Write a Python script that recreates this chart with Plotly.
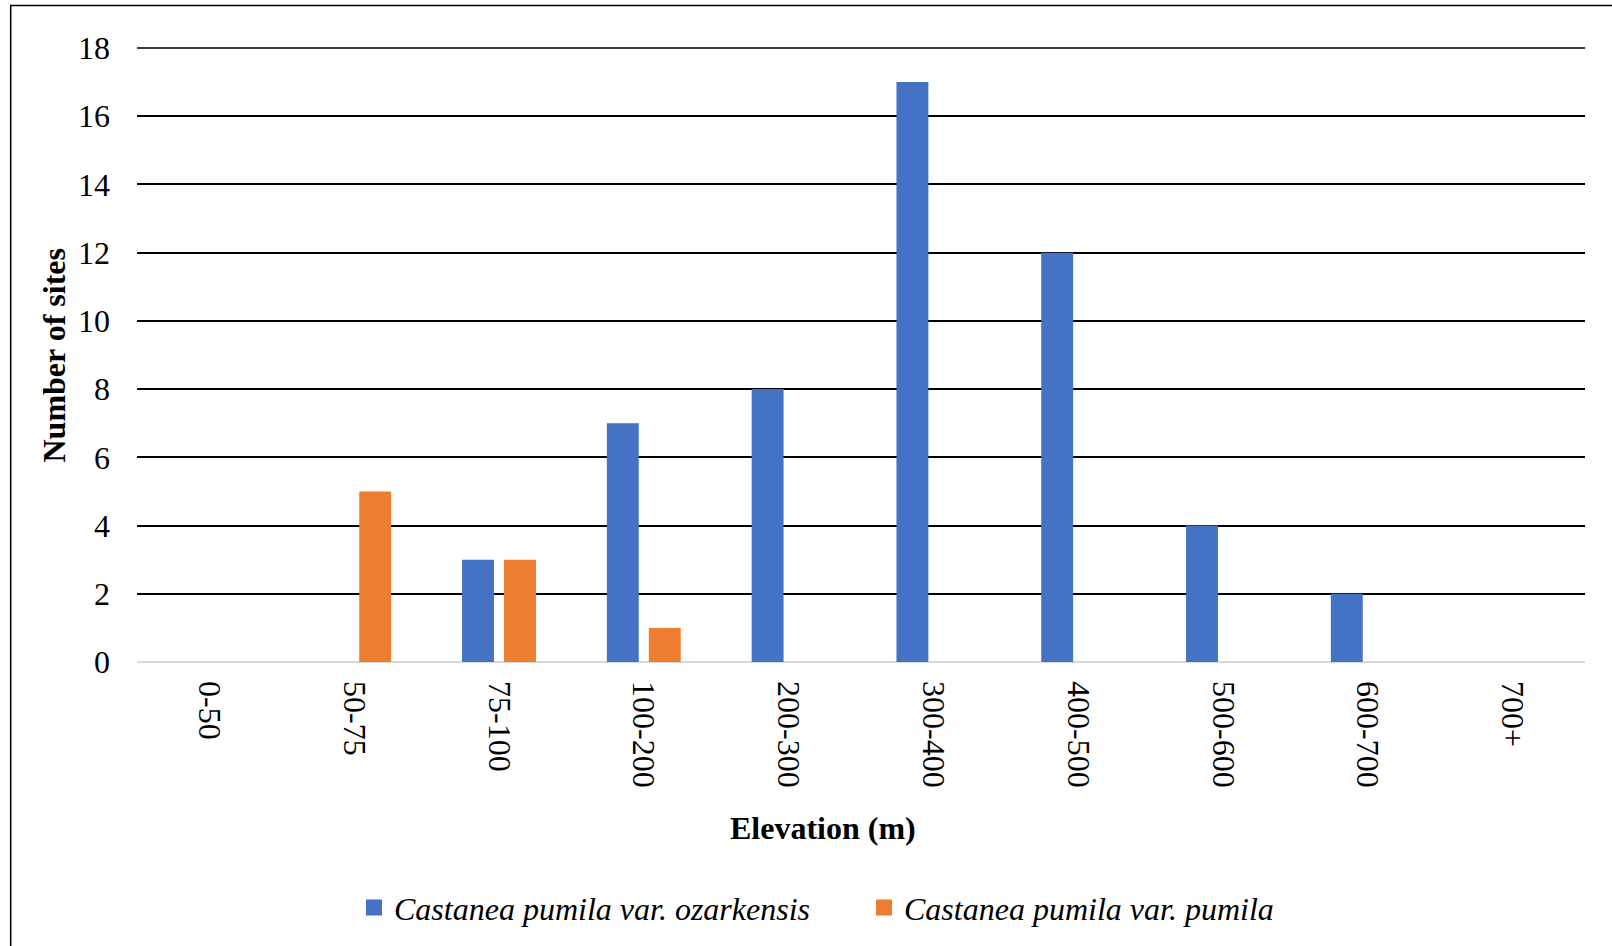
import plotly.graph_objects as go

# Elevation bands and site counts per variety
elevation_bands = ["0-50", "50-75", "75-100", "100-200", "200-300",
                   "300-400", "400-500", "500-600", "600-700", "700+"]
ozarkensis_sites = [0, 0, 3, 7, 8, 17, 12, 4, 2, 0]
pumila_sites = [0, 5, 3, 1, 0, 0, 0, 0, 0, 0]
y_ticks = [0, 2, 4, 6, 8, 10, 12, 14, 16, 18]

series_names = ["Castanea pumila var. ozarkensis", "Castanea pumila var. pumila"]
series_colors = ["#4472C4", "#ED7D31"]

SERIF = "Liberation Serif"
W, H = 1612, 946
L, R, T, B = 137, 27, 48.5, 283
pw, ph = W - L - R, H - T - B

fig = go.Figure()
for vals, name, color in zip([ozarkensis_sites, pumila_sites], series_names, series_colors):
    fig.add_trace(go.Bar(
        x=elevation_bands, y=vals, name=name, showlegend=False,
        marker=dict(color=color, line=dict(width=0)),
    ))
# legend entries with larger square swatches
for name, color in zip(series_names, series_colors):
    fig.add_trace(go.Scatter(
        x=[None], y=[None], mode="markers", name=name,
        marker=dict(symbol="square", size=16, color=color, line=dict(width=0)),
    ))

# outer frame around the chart area
fig.add_shape(
    type="rect", xref="paper", yref="paper",
    x0=(10.7 - L) / pw, x1=(W + 5 - L) / pw,
    y0=(H - B - (H + 5)) / ph, y1=(H - B - 6) / ph,
    line=dict(color="black", width=1.5), fillcolor="rgba(0,0,0,0)",
    layer="below",
)
# top gridline at the range limit (paper-referenced so it is not clipped)
fig.add_shape(
    type="line", xref="paper", yref="paper", x0=0, x1=1, y0=1, y1=1,
    line=dict(color="black", width=1.5), layer="below",
)

fig.add_annotation(
    text="<b>Elevation (m)</b>", xref="paper", yref="paper",
    x=(823 - L) / pw, y=(H - B - 829) / ph, xanchor="center", yanchor="middle",
    showarrow=False, font=dict(family=SERIF, size=32, color="black"),
)
fig.add_annotation(
    text="<b>Number of sites</b>", xref="paper", yref="paper",
    x=(53.5 - L) / pw, y=0.5, xanchor="center", yanchor="middle", textangle=-90,
    showarrow=False, font=dict(family=SERIF, size=32, color="black"),
)

fig.update_layout(
    width=W, height=H,
    margin=dict(l=L, r=R, t=T, b=B),
    paper_bgcolor="white", plot_bgcolor="white",
    barmode="group", bargap=0.42, bargroupgap=0.24,
    font=dict(family=SERIF, color="black", size=32),
    showlegend=True,
    legend=dict(
        orientation="h", x=(354 - L) / pw, xanchor="left",
        y=(H - B - 908) / ph, yanchor="middle",
        entrywidth=465, entrywidthmode="pixels",
        font=dict(family=SERIF, size=32, style="italic"),
        bgcolor="rgba(0,0,0,0)", traceorder="normal",
    ),
    xaxis=dict(
        tickangle=90, showgrid=False, showline=False, zeroline=False,
        ticks="", ticklabelstandoff=18,
        tickfont=dict(family=SERIF, size=32),
    ),
    yaxis=dict(
        range=[0, 18], tickvals=y_ticks, showgrid=True,
        gridcolor="black", gridwidth=1.5,
        zeroline=True, zerolinecolor="#d9d9d9", zerolinewidth=2,
        showline=False, ticks="", ticklabelstandoff=26,
        tickfont=dict(family=SERIF, size=32),
    ),
)

fig.write_html("out.html")
